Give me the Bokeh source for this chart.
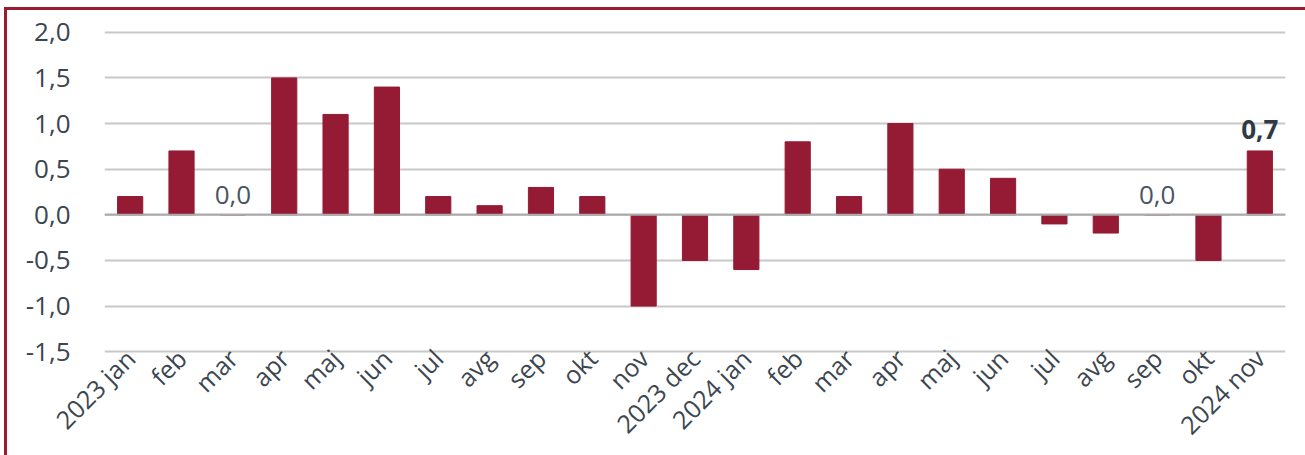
from bokeh.plotting import figure
from bokeh.models import ColumnDataSource, FixedTicker, CustomJSTickFormatter, Span, Range1d
from bokeh.core.properties import value
from bokeh.embed import file_html
from bokeh.resources import INLINE
import math

categories = ["2023 jan", "feb", "mar", "apr", "maj", "jun", "jul", "avg", "sep", "okt",
              "nov", "2023 dec", "2024 jan", "feb", "mar", "apr", "maj", "jun", "jul",
              "avg", "sep", "okt", "2024 nov"]
values = [0.2, 0.7, 0.0, 1.5, 1.1, 1.4, 0.2, 0.1, 0.3, 0.2,
          -1.0, -0.5, -0.6, 0.8, 0.2, 1.0, 0.5, 0.4, -0.1,
          -0.2, 0.0, -0.5, 0.7]
y_ticks = [-1.5, -1.0, -0.5, 0.0, 0.5, 1.0, 1.5, 2.0]
label_normal = [2, 20]   # indices with plain data labels
label_bold = [22]        # index with bold data label

BAR = "#951a33"
TXT = "#3b4650"
FONT = "Open Sans"
FS = "26px"

xs = list(range(len(categories)))
src = ColumnDataSource(dict(x=xs, top=values))

p = figure(width=1297, height=444, output_backend="svg", toolbar_location=None,
           x_range=Range1d(-0.5, len(categories) - 0.5),
           y_range=Range1d(y_ticks[0] - 0.02, y_ticks[-1] + 0.02),
           min_border_left=96, min_border_right=20, min_border_top=19, min_border_bottom=100)
p.margin = (11, 0, 0, 8)
p.styles = {"outline": "3px solid #9b1b30", "outline-offset": "1px"}
p.outline_line_color = None
p.background_fill_color = "white"
p.border_fill_color = "white"

p.vbar(x="x", top="top", bottom=0, width=0.49, color=BAR, source=src)

zero = Span(location=0, dimension="width", line_color="#ababab", line_width=2)
p.add_layout(zero)

def fmt(v):
    return f"{v:.1f}".replace(".", ",")

nsrc = ColumnDataSource(dict(x=[xs[i] for i in label_normal],
                             y=[max(values[i], 0) for i in label_normal],
                             t=[fmt(values[i]) for i in label_normal]))
p.text(x="x", y="y", text="t", source=nsrc, text_align="center", text_baseline="bottom",
       y_offset=-11, text_font=value(FONT), text_font_size=FS, text_color="#4a5560")

bsrc = ColumnDataSource(dict(x=[xs[i] for i in label_bold],
                             y=[values[i] for i in label_bold],
                             t=[fmt(values[i]) for i in label_bold]))
p.text(x="x", y="y", text="t", source=bsrc, text_align="center", text_baseline="bottom",
       y_offset=-12, text_font=value(FONT), text_font_size=FS, text_font_style="bold",
       text_color="#2e3a44")

p.xaxis.ticker = FixedTicker(ticks=xs)
p.xaxis.formatter = CustomJSTickFormatter(args=dict(labels=categories),
                                          code="return labels[Math.round(tick)];")
p.xaxis.major_label_orientation = math.pi / 4
p.xaxis.axis_line_color = None
p.xaxis.major_tick_line_color = None
p.xaxis.major_tick_out = 0
p.xaxis.major_tick_in = 0
p.xaxis.minor_tick_line_color = None
p.xaxis.major_label_text_font = FONT
p.xaxis.major_label_text_font_size = "25px"
p.xaxis.major_label_text_line_height = 1.0
p.xaxis.major_label_text_color = TXT
p.xaxis.major_label_standoff = 0

p.yaxis.ticker = FixedTicker(ticks=y_ticks)
p.yaxis.formatter = CustomJSTickFormatter(code="return tick.toFixed(1).replace('.', ',');")
p.yaxis.axis_line_color = None
p.yaxis.major_tick_line_color = None
p.yaxis.minor_tick_line_color = None
p.yaxis.major_label_text_font = FONT
p.yaxis.major_label_text_font_size = FS
p.yaxis.major_label_text_color = TXT
p.yaxis.major_label_standoff = 28

p.xgrid.grid_line_color = None
p.ygrid.ticker = FixedTicker(ticks=y_ticks)
p.ygrid.grid_line_color = "#c8c8c8"
p.ygrid.grid_line_width = 2

open("out.html", "w").write(file_html(p, INLINE))
